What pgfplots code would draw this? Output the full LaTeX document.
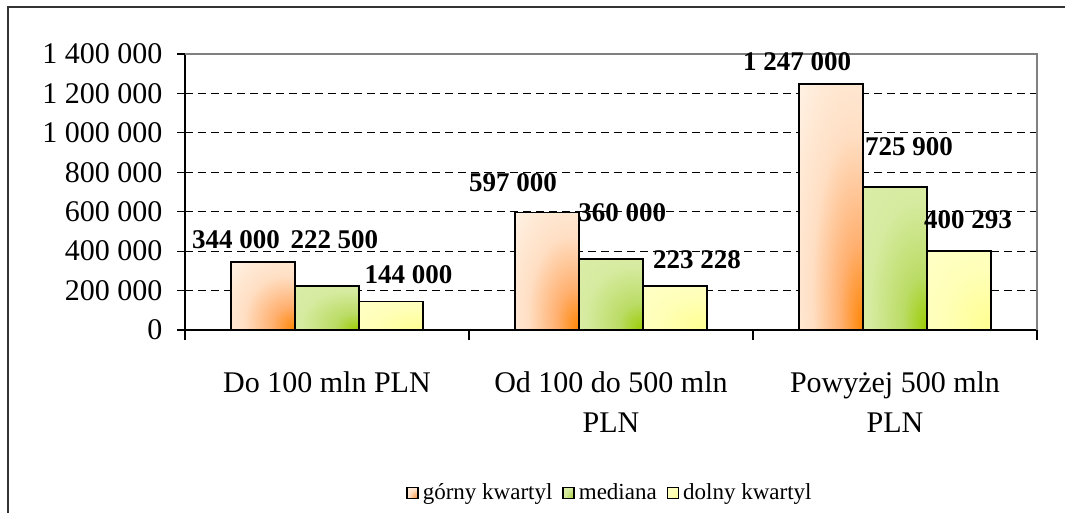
\documentclass[border=0pt]{standalone}
\usepackage{pgfplots}
\pgfplotsset{compat=1.18}
\usepackage{fontspec}
\setmainfont{Liberation Serif}
\definecolor{orD}{HTML}{FF8400}
\definecolor{orM}{HTML}{FFB070}
\definecolor{orL}{HTML}{FFDFC4}
\definecolor{orW}{HTML}{FFF4E8}
\definecolor{grD}{HTML}{99CC00}
\definecolor{grM}{HTML}{BBDC66}
\definecolor{grL}{HTML}{D6EBA0}
\definecolor{grW}{HTML}{DCEEAA}
\definecolor{yeD}{HTML}{FFFF90}
\definecolor{yeL}{HTML}{FFFFB8}
\definecolor{yeW}{HTML}{FFFFCC}
\pgfdeclareradialshading{orsh}{\pgfpoint{25bp}{-25bp}}{color(0bp)=(orD); color(14bp)=(orM); color(32bp)=(orL); color(55bp)=(orW); color(100bp)=(orW)}
\pgfdeclareradialshading{grsh}{\pgfpoint{25bp}{-25bp}}{color(0bp)=(grD); color(15bp)=(grM); color(36bp)=(grL); color(60bp)=(grW); color(100bp)=(grW)}
\pgfdeclareradialshading{yesh}{\pgfpoint{25bp}{-25bp}}{color(0bp)=(yeD); color(30bp)=(yeL); color(60bp)=(yeW); color(100bp)=(yeW)}
\pgfplotsset{
  gk/.style={draw=black, line width=0.8pt, shade, shading=orsh, bar shift=-32pt},
  md/.style={draw=black, line width=0.8pt, shade, shading=grsh, bar shift=0pt},
  dk/.style={draw=black, line width=0.8pt, shade, shading=yesh, bar shift=32pt},
}
\begin{document}
\begin{tikzpicture}[x=1pt,y=1pt]
\useasboundingbox (0,0) rectangle (532.5,-256.5);
\draw[line width=1pt, black!80] (4,-262) -- (4,-3.5) -- (545,-3.5);
\begin{axis}[
  at={(92.5pt,-165pt)}, anchor=south west,
  scale only axis, width=426pt, height=138pt,
  xmin=-0.5, xmax=2.5, ymin=0, ymax=1400000,
  scaled y ticks=false,
  axis x line*=bottom, axis y line*=left,
  axis line style={black, line width=0.7pt, -},
  ybar, bar width=32pt,
  ytick={0,200000,400000,600000,800000,1000000,1200000,1400000},
  yticklabels={0,200 000,400 000,600 000,800 000,1 000 000,1 200 000,1 400 000},
  ytick align=center, major tick length=7.5pt,
  ytick style={black, line width=0.6pt},
  yticklabel style={font=\fontsize{15}{18}\selectfont, xshift=-4pt},
  ymajorgrids, major grid style={black, line width=0.6pt, dash pattern=on 4pt off 2.5pt},
  xtick={0,1,2},
  xticklabels={Do 100 mln PLN, Od 100 do 500 mln\\PLN, Powyżej 500 mln\\PLN},
  xtick style={draw=none},
  xticklabel style={font=\fontsize{15}{20}\selectfont, align=center, anchor=north, yshift=-10pt},
  extra x ticks={-0.5,0.5,1.5,2.5}, extra x tick labels={},
  extra x tick style={xtick style={draw=black, line width=0.6pt}, xtick align=outside, major tick length=5pt},
  legend columns=3,
  legend style={at={(0.5,0)}, anchor=center, yshift=-81.5pt, draw=none, fill=none,
    font=\fontsize{11.5}{13}\selectfont, /tikz/every even column/.append style={column sep=3pt}},
  legend image code/.code={\path[#1] (0pt,-2.7pt) rectangle (5.4pt,2.7pt);
    \draw[black, line width=0.8pt] (0pt,-2.7pt) rectangle (5.4pt,2.7pt);},
  clip=false,
]
\addplot[gk] coordinates {(0,344000)};
\addlegendentry{górny kwartyl}
\addplot[md] coordinates {(0,222500)};
\addlegendentry{mediana}
\addplot[dk] coordinates {(0,144000)};
\addlegendentry{dolny kwartyl}
\addplot[gk, forget plot] coordinates {(1,597000)};
\addplot[gk, forget plot] coordinates {(2,1247000)};
\addplot[md, forget plot] coordinates {(1,360000)};
\addplot[md, forget plot] coordinates {(2,725900)};
\addplot[dk, forget plot] coordinates {(1,223228)};
\addplot[dk, forget plot] coordinates {(2,400293)};
\draw[gray, line width=1pt] (rel axis cs:0,1) -- (rel axis cs:1,1) -- (rel axis cs:1,0);
\begin{scope}[every node/.style={font=\fontsize{13.5}{16}\bfseries\selectfont, inner sep=0pt}]
\node at (axis cs:-0.320,456500) {344 000};
\node at (axis cs:0.026,456500) {222 500};
\node at (axis cs:0.287,279000) {144 000};
\node at (axis cs:0.655,745600) {597 000};
\node at (axis cs:1.040,593400) {360 000};
\node at (axis cs:1.303,355000) {223 228};
\node at (axis cs:1.655,1359300) {1 247 000};
\node at (axis cs:2.049,928200) {725 900};
\node at (axis cs:2.257,557900) {400 293};
\end{scope}
\end{axis}
\end{tikzpicture}
\end{document}
